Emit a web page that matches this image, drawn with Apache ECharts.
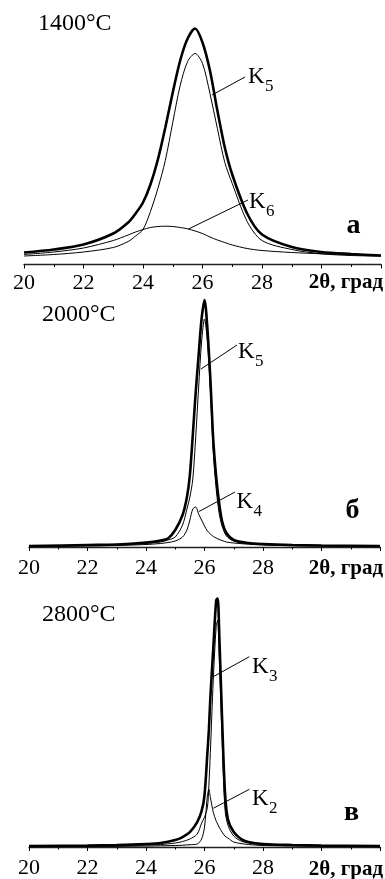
<!DOCTYPE html>
<html>
<head>
<meta charset="utf-8">
<script src="https://cdn.jsdelivr.net/npm/echarts@6/dist/echarts.min.js"></script>
<style>
html,body{margin:0;padding:0;background:#fff;}
#chart{width:385px;height:879px;}
</style>
</head>
<body>
<div id="chart"></div>
<script>
// ---------- data (intensity, arbitrary units) ----------
// panel а: 1400°C
const xA      = [20, 21, 22, 23, 23.5, 23.75, 24, 24.25, 24.5, 24.75, 25, 25.25, 25.5, 25.75, 26, 26.25, 26.5, 26.75, 27, 27.5, 28, 29, 30, 31, 32];
const totalA  = [12, 15, 20, 31, 42, 51, 62, 80, 105, 137, 172, 204, 226, 236, 222, 194, 154, 117, 90, 51, 30, 17.5, 12.5, 10.5, 9];
const k5A     = [8.5, 10, 12.5, 17, 23, 28.5, 35, 53, 76, 104, 142, 179, 203, 211, 201, 171, 136, 102, 81, 43, 24, 15, 10.7, 9, 8.3];
const k6A     = [10, 12.5, 16.5, 24, 29.5, 32.5, 35, 37, 38, 38.3, 38, 37, 35.7, 33.5, 31, 27.5, 24.5, 22, 19.5, 16, 14, 12, 10.7, 9.7, 9];

// panel б: 2000°C
const xB      = [20, 22, 23, 24, 24.5, 24.75, 25, 25.25, 25.4, 25.5, 25.6, 25.7, 25.8, 25.9, 26, 26.1, 26.2, 26.3, 26.4, 26.5, 26.6, 26.75, 27, 27.5, 28, 29, 30, 32];
const totalB  = [1, 2, 2.5, 4.5, 6.5, 8.5, 17, 32, 50, 72, 112, 155, 192, 228, 247, 218, 168, 107, 70, 44, 26, 14, 7, 4, 3, 2, 1.5, 1];
const k5B     = [0.8, 1.5, 2, 3.5, 5, 7, 10, 22, 38, 50, 68, 110, 160, 205, 228, 205, 157, 95, 58, 34, 21, 11, 6, 3.5, 2.5, 1.5, 1.2, 0.8];
const k4B     = [0.5, 1, 1.5, 2.5, 3.5, 4.5, 6, 10, 17, 27, 38, 40, 33, 27, 21, 16, 13, 10.5, 9, 7.5, 6.5, 5, 4, 2.8, 2, 1.2, 1, 0.6];

// panel в: 2800°C
const xC      = [20, 22, 23, 24, 24.5, 25, 25.25, 25.5, 25.75, 25.9, 26, 26.1, 26.15, 26.2, 26.3, 26.4, 26.45, 26.5, 26.6, 26.7, 26.8, 27, 27.25, 27.5, 28, 29, 30, 32];
const totalC  = [1, 1.5, 2, 3, 4, 7, 10, 15, 25, 36, 52, 95, 118, 150, 200, 248, 250, 218, 130, 55, 28, 15, 8, 5, 3, 2, 1.5, 1];
const k3C     = [0.5, 1, 1.3, 2, 2.5, 4, 5.5, 8, 13, 24, 30, 40, 62, 95, 168, 222, 228, 195, 110, 38, 22, 11, 6, 4, 2.5, 1.5, 1, 0.6];
const k2C     = [0.3, 0.5, 0.6, 1, 1.2, 1.5, 1.8, 2.3, 3, 8, 20, 52, 58, 50, 35, 26, 23, 20, 15, 11, 9, 5, 3.5, 2.5, 1.5, 1, 0.7, 0.4];

const xTickLabels = ['20', '22', '24', '26', '28'];
const axisTitle = '2θ, град';
const panelLetters = ['а', 'б', 'в'];
const temps = ['1400°C', '2000°C', '2800°C'];

// ---------- layout ----------
const FONT = 'Liberation Serif, Times New Roman, serif';
const panels = [
  {left: 24, width: 357, axisY: 264.5, labelMargin: 8,  x: xA, total: totalA, comps: [k5A, k6A]},
  {left: 29, width: 351, axisY: 547,   labelMargin: 10, x: xB, total: totalB, comps: [k5B, k4B]},
  {left: 29, width: 351, axisY: 848.5, labelMargin: 10, x: xC, total: totalC, comps: [k3C, k2C]}
];
const H = 260;

const grid = [], xAxis = [], yAxis = [], series = [];
panels.forEach((p, i) => {
  grid.push({left: p.left, width: p.width, top: p.axisY - H, height: H, containLabel: false});
  xAxis.push({
    type: 'value', gridIndex: i, min: 20, max: 32, interval: 2,
    axisLine: {show: true, onZero: false, lineStyle: {color: '#222', width: 1.3}},
    axisTick: {show: true, inside: false, length: 4, lineStyle: {color: '#000', width: 1}},
    minorTick: {show: true, splitNumber: 2, length: 2.5, lineStyle: {color: '#000', width: 1}},
    splitLine: {show: false}, minorSplitLine: {show: false},
    axisLabel: {
      show: true, margin: p.labelMargin, color: '#000', fontFamily: FONT, fontSize: 22,
      formatter: v => xTickLabels.indexOf(String(v)) >= 0 ? String(v) : ''
    }
  });
  yAxis.push({type: 'value', gridIndex: i, min: 0, max: H, show: false});
  const pts = arr => p.x.map((x, j) => [x, arr[j]]);
  series.push({
    type: 'line', xAxisIndex: i, yAxisIndex: i, data: pts(p.total),
    showSymbol: false, smooth: 0.3, clip: false,
    lineStyle: {color: '#000', width: 2.6}, silent: true
  });
  p.comps.forEach(c => series.push({
    type: 'line', xAxisIndex: i, yAxisIndex: i, data: pts(c),
    showSymbol: false, smooth: 0.3, clip: false,
    lineStyle: {color: '#000', width: 1}, silent: true
  }));
});

// ---------- annotations ----------
const g = [];
function txt(x, y, s, size, weight, align) {
  g.push({type: 'text', x: x, y: y, silent: true,
    style: {text: s, fill: '#000', font: (weight || 'normal') + ' ' + size + 'px ' + FONT,
      textAlign: align || 'left', textVerticalAlign: 'middle'}});
}
function line(x1, y1, x2, y2) {
  g.push({type: 'line', silent: true, shape: {x1, y1, x2, y2}, style: {stroke: '#000', lineWidth: 1}});
}
// temperatures
txt(38, 23.5, temps[0], 24);
txt(42, 315, temps[1], 24);
txt(42, 615, temps[2], 24);
// axis titles
[283, 568.5, 870].forEach(y => txt(383, y, axisTitle, 21, 'bold', 'right'));
// panel letters
txt(353.5, 225.5, panelLetters[0], 28, 'bold', 'center');
txt(352.5, 510.5, panelLetters[1], 28, 'bold', 'center');
txt(351.5, 812.5, panelLetters[2], 28, 'bold', 'center');
// K labels
const kLabels = [
  {x: 248, y: 77, sub: '5', l: [212, 95, 245, 77]},
  {x: 249, y: 202, sub: '6', l: [188.5, 229, 248, 200]},
  {x: 238, y: 352, sub: '5', l: [201, 369, 237, 345]},
  {x: 236.5, y: 502, sub: '4', l: [199, 511.5, 235, 492]},
  {x: 252, y: 667, sub: '3', l: [213.3, 676.7, 249.3, 656.7]},
  {x: 252, y: 798.5, sub: '2', l: [213.3, 808.3, 249.3, 789.3]}
];
kLabels.forEach(k => {
  txt(k.x, k.y, 'K', 23);
  txt(k.x + 17, k.y + 10, k.sub, 17);
  line(...k.l);
});

const chart = echarts.init(document.getElementById('chart'), null, {renderer: 'canvas'});
chart.setOption({
  animation: false,
  backgroundColor: '#fff',
  grid, xAxis, yAxis, series,
  graphic: g
});
</script>
</body>
</html>
